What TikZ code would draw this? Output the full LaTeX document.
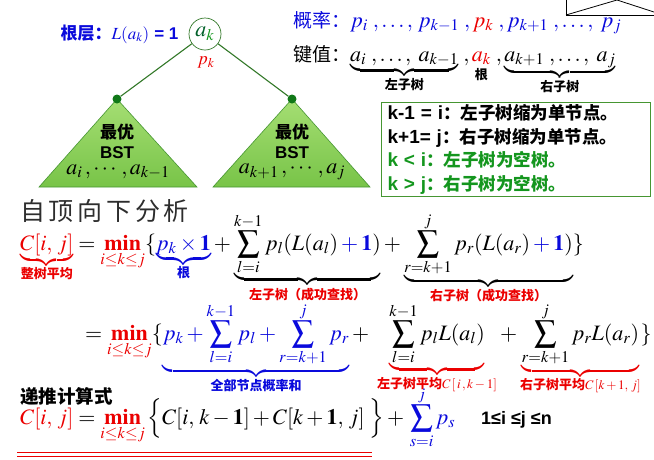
\documentclass[tikz,border=0pt]{standalone}
\usepackage{amsmath}
\usepackage{mathptmx}
\usepackage[no-math]{fontspec}
\setsansfont{Liberation Sans}
\newfontfamily\cjk{Noto Sans CJK SC}
\newfontfamily\cjkwide[LetterSpace=15]{Noto Sans CJK SC}
\usetikzlibrary{positioning}

\definecolor{kred}{RGB}{235,0,0}
\definecolor{kblue}{RGB}{10,10,220}
\definecolor{kgreen}{RGB}{20,150,30}
\definecolor{darkleaf}{RGB}{0,95,40}
\definecolor{branch}{RGB}{50,120,40}
\definecolor{leaftop}{RGB}{165,222,115}
\definecolor{leafbot}{RGB}{120,196,72}
\definecolor{boxgreen}{RGB}{70,150,50}
\definecolor{darktitle}{RGB}{45,45,45}

\newcommand{\lbl}[2]{\text{\fontsize{13}{15}\cjk\bfseries\color{#1}#2}}
\newcommand{\ubr}[3]{{\color{#1}\underbrace{{\color{black}#2}}_{#3}}}
\newcommand{\kmin}{\mathop{{\color{kred}\mathbf{min}}}\limits_{\color{kred}i\le k\le j}}
\newcommand{\bplus}{\mathbin{\color{kblue}+}}
\newcommand{\caseline}[2]{{\fontsize{19}{23.5}\sffamily\bfseries #1}{\cjk\bfseries ：#2}}

\begin{document}
\begin{tikzpicture}[x=1pt, y=-1pt,
  eq/.style = {anchor=base west, inner sep=0pt, font=\fontsize{22}{26}\selectfont},
  txt/.style = {inner sep=0pt},
  rootnode/.style = {draw=branch, circle, minimum size=32pt, inner sep=0pt, line width=0.7pt},
  dotnode/.style = {circle, fill=kgreen!80!black, minimum size=9pt, inner sep=0pt},
  branchline/.style = {draw=branch, line width=1.1pt},
  subtree/.style = {top color=leaftop, bottom color=leafbot, draw=boxgreen, line width=0.6pt},
  casebox/.style = {draw=boxgreen, line width=1.2pt, anchor=north west, align=left,
    inner xsep=6pt, inner ysep=0pt, minimum width=269pt, minimum height=94pt, text width=257pt}]
  \useasboundingbox (0,0) rectangle (654,459);

  % corner of the next picture
  \draw[line width=0.8pt] (566,-3) -- (566,15) -- (657,15);
  \draw[line width=0.8pt] (566,15) -- (617,0) -- (657,13);

  % tree
  \node[rootnode] (root) at (205,34) {\fontsize{22}{24}\selectfont$\color{darkleaf}a_{\color{kgreen}k}$};
  \node[txt, left=10pt of root, text=kblue, font=\fontsize{17}{20}\selectfont] (level)
    {{\cjk\bfseries 根层：}$L(a_k)$ {\sffamily\bfseries = 1}};
  \node[txt, text=kred, font=\fontsize{18}{20}\selectfont] (prk) at (206,62) {$p_k$};

  \coordinate (ltop) at (117,99);
  \coordinate (rtop) at (292,99);
  \shade[subtree] (ltop) -- (39,187) -- (197,187) -- cycle;
  \shade[subtree] (rtop) -- (213,187) -- (370,187) -- cycle;
  \node[dotnode] (ldot) at (ltop) {};
  \node[dotnode] (rdot) at (rtop) {};
  \draw[branchline] (root) -- (ldot);
  \draw[branchline] (root) -- (rdot);

  \node[txt, font=\fontsize{17}{20}\cjk\bfseries] (lbest) at (117,132) {最优};
  \node[txt, font=\fontsize{17}{20}\sffamily\bfseries] (lbst) at (117,153) {BST};
  \node[txt, font=\fontsize{22}{24}\selectfont] (lkeys) at (118,172) {$a_i\,,\cdots,a_{k-1}$};
  \node[txt, font=\fontsize{17}{20}\cjk\bfseries] (rbest) at (292,132) {最优};
  \node[txt, font=\fontsize{17}{20}\sffamily\bfseries] (rbst) at (292,153) {BST};
  \node[txt, font=\fontsize{22}{24}\selectfont] (rkeys) at (292,172) {$a_{k+1}\,,\cdots,a_j$};

  % probabilities and keys
  \node[txt, anchor=base west, font=\fontsize{22}{24}\selectfont, text=kblue] (prob) at (293,27)
    {{\fontsize{19}{22}\cjk 概率：}$p_i\;,\ldots,\,p_{k-1}\;,{\color{kred}p_k}\;,p_{k+1}\;,\ldots,\;p_j$};
  \node[txt, anchor=base west, font=\fontsize{22}{24}\selectfont] (keys) at (293,61)
    {{\fontsize{19}{22}\cjk 键值：}$\underbrace{a_i\;,\ldots,\;a_{k-1}}_{\lbl{black}{左子树}}\;,%
      \underset{\lbl{black}{根}}{{\color{kred}a_k}}\;,\underbrace{a_{k+1}\;,\ldots,\;a_j}_{\lbl{black}{右子树}}$};

  \node[casebox, font=\fontsize{17.5}{23.5}\selectfont] (cases) at (381,102) {%
    \caseline{k-1 = i}{左子树缩为单节点。}\\
    \caseline{k+1= j}{右子树缩为单节点。}\\
    {\color{kgreen}\caseline{k < i}{左子树为空树。}}\\
    {\color{kgreen}\caseline{k > j}{右子树为空树。}}};

  % top-down analysis
  \node[txt, anchor=west, text=darktitle, font=\fontsize{25}{28}\cjkwide] (topdown) at (20,211) {自顶向下分析};

  \node[eq] (eqa) at (20,250) {$\displaystyle
    \ubr{kred}{{\color{kred}C[i,\,j]}}{\lbl{kred}{整树平均}}
    = \kmin\{\ubr{kblue}{{\color{kblue}p_k\times\mathbf{1}}}{\lbl{kblue}{根}}
    + \ubr{black}{\sum_{l=i}^{k-1}p_l(L(a_l)\bplus{\color{kblue}\mathbf{1}})}{\lbl{kred}{左子树（成功查找）}}
    + \ubr{black}{\sum_{r=k+1}^{j}p_r(L(a_r)\bplus{\color{kblue}\mathbf{1}})}{\lbl{kred}{右子树（成功查找）}}\}$};

  \node[eq] (eqb) at (85,340) {$\displaystyle
    = \kmin\{\ubr{kblue}{{\color{kblue}p_k+\sum_{l=i}^{k-1}p_l+\sum_{r=k+1}^{j}p_r}}{\lbl{kblue}{全部节点概率和}}
    +\;\ubr{kred}{\sum_{l=i}^{k-1}p_lL(a_l)}{\lbl{kred}{左子树平均$C\,[\,i\,,k-1]$}}
    +\ubr{kred}{\sum_{r=k+1}^{j}p_rL(a_r)}{\lbl{kred}{右子树平均$C\,[k+1,\,j]$}}\}$};

  % recurrence
  \node[txt, anchor=west, font=\fontsize{18.5}{20}\cjk\bfseries] (recur) at (20,396) {递推计算式};
  \node[eq] (eqc) at (20,424) {$\displaystyle
    {\color{kred}C[i,\,j]} = \kmin\Big\{C[i,\,k-\mathbf{1}]+C[k+\mathbf{1},\,j]\;\Big\}+\,{\color{kblue}\sum_{s=i}^{j}p_s}$};
  \node[txt, anchor=base west, font=\fontsize{18}{20}\sffamily\bfseries] (range) at (481,424) {1≤i ≤j ≤n};

  \draw[kred, line width=0.9pt] (17,452.5) -- (372,452.5);
  \draw[kred, line width=0.9pt] (17,456.5) -- (372,456.5);
\end{tikzpicture}
\end{document}
